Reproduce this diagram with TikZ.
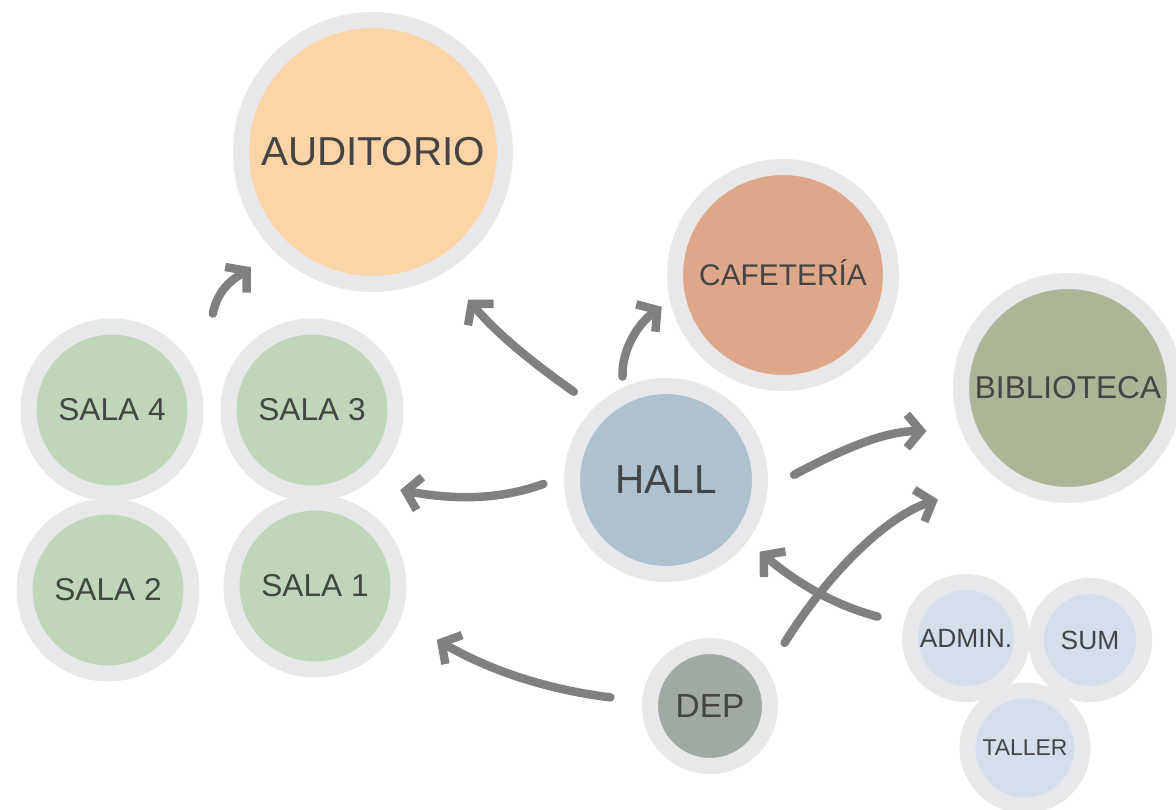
\documentclass[tikz,border=0pt]{standalone}
\usepackage{fontspec}
\setmainfont{Liberation Sans}
\usetikzlibrary{%
  arrows.meta,%
  calc,%
  positioning%
}

\definecolor{ringgray}{RGB}{232,232,234}
\definecolor{labelgray}{RGB}{68,68,68}
\definecolor{flowgray}{RGB}{128,128,128}
\definecolor{auditorio}{RGB}{253,212,166}
\definecolor{cafeteria}{RGB}{222,167,138}
\definecolor{biblioteca}{RGB}{173,181,151}
\definecolor{hall}{RGB}{173,193,206}
\definecolor{sala}{RGB}{191,215,184}
\definecolor{dep}{RGB}{160,170,162}
\definecolor{servicio}{RGB}{213,223,235}

\begin{document}
\begin{tikzpicture}
  [
  x=0.02cm, y=-0.02cm,
  roomnode/.style={circle, inner sep=0pt, draw=ringgray, line width=0.32cm, text=labelgray},
  flow/.style={draw=flowgray, line width=4.8pt, line cap=round,
    -{Straight Barb[length=8pt, width=19pt]}}
  ]

  \path[fill=white, use as bounding box] (0,0) rectangle (1176,809);

  % main rooms
  \node[roomnode, minimum size=5.28cm, fill=auditorio, font=\fontsize{23}{27}\selectfont]
    (auditorio) at (373,152) {AUDITORIO};
  \node[roomnode, minimum size=4.32cm, fill=cafeteria, font=\fontsize{17}{20}\selectfont]
    (cafeteria) at (783,275) {CAFETER\smash{Í}A};
  \node[roomnode, minimum size=4.28cm, fill=biblioteca, font=\fontsize{18}{21}\selectfont]
    (biblioteca) at (1068,388) {BIBLIOTECA};
  \node[roomnode, minimum size=3.76cm, fill=hall, font=\fontsize{23}{27}\selectfont]
    (hall) at (666,480) {HALL};

  % classrooms
  \foreach \n/\x/\y in {4/112/410, 3/312/410, 2/108/590, 1/315/586} {
    \node[roomnode, minimum size=3.34cm, fill=sala, font=\fontsize{18}{21}\selectfont]
      (sala\n) at (\x,\y) {SALA \n};
  }

  % small rooms
  \node[roomnode, minimum size=2.4cm, fill=dep, font=\fontsize{19}{22}\selectfont]
    (dep) at (710,706) {DEP};
  \node[roomnode, minimum size=2.24cm, fill=servicio, font=\fontsize{15}{18}\selectfont]
    (admin) at (966,638) {ADMIN.};
  \node[roomnode, minimum size=2.16cm, fill=servicio, font=\fontsize{15}{18}\selectfont]
    (sum) at (1090,640) {SUM};
  \node[roomnode, minimum size=2.3cm, fill=servicio, font=\fontsize{13}{16}\selectfont]
    (taller) at (1025,748) {TALLER};

  \coordinate (salas) at ($(sala4.north)!0.5!(sala3.north)$);

  % circulation
  \draw[flow, shorten <=0.1cm, shorten >=0.56cm] (salas) to[out=80, in=220] (auditorio.224);
  \draw[flow, shorten <=0.52cm, shorten >=0.72cm] (hall.134) to[out=145, in=310] (auditorio.301);
  \draw[flow, shorten <=0.22cm, shorten >=0.2cm] (hall.115) to[out=92, in=215] (cafeteria.193);
  \draw[flow, shorten <=0.44cm, shorten >=0.7cm] (hall.178) to[out=200, in=350] (sala3.306);
  \draw[flow, shorten <=0.64cm, shorten >=0.84cm] (dep.176) to[out=173, in=330] (sala1.339);
  \draw[flow, shorten <=0.6cm, shorten >=0.7cm] (hall.355) to[out=28, in=180] (biblioteca.202);
  \draw[flow, shorten <=0.64cm, shorten >=1.28cm] (dep.32) to[out=58, in=198] (biblioteca.233);
  \draw[flow, shorten <=0.54cm, shorten >=0.32cm] (admin.167) to[out=165, in=320] (hall.323);
\end{tikzpicture}
\end{document}
